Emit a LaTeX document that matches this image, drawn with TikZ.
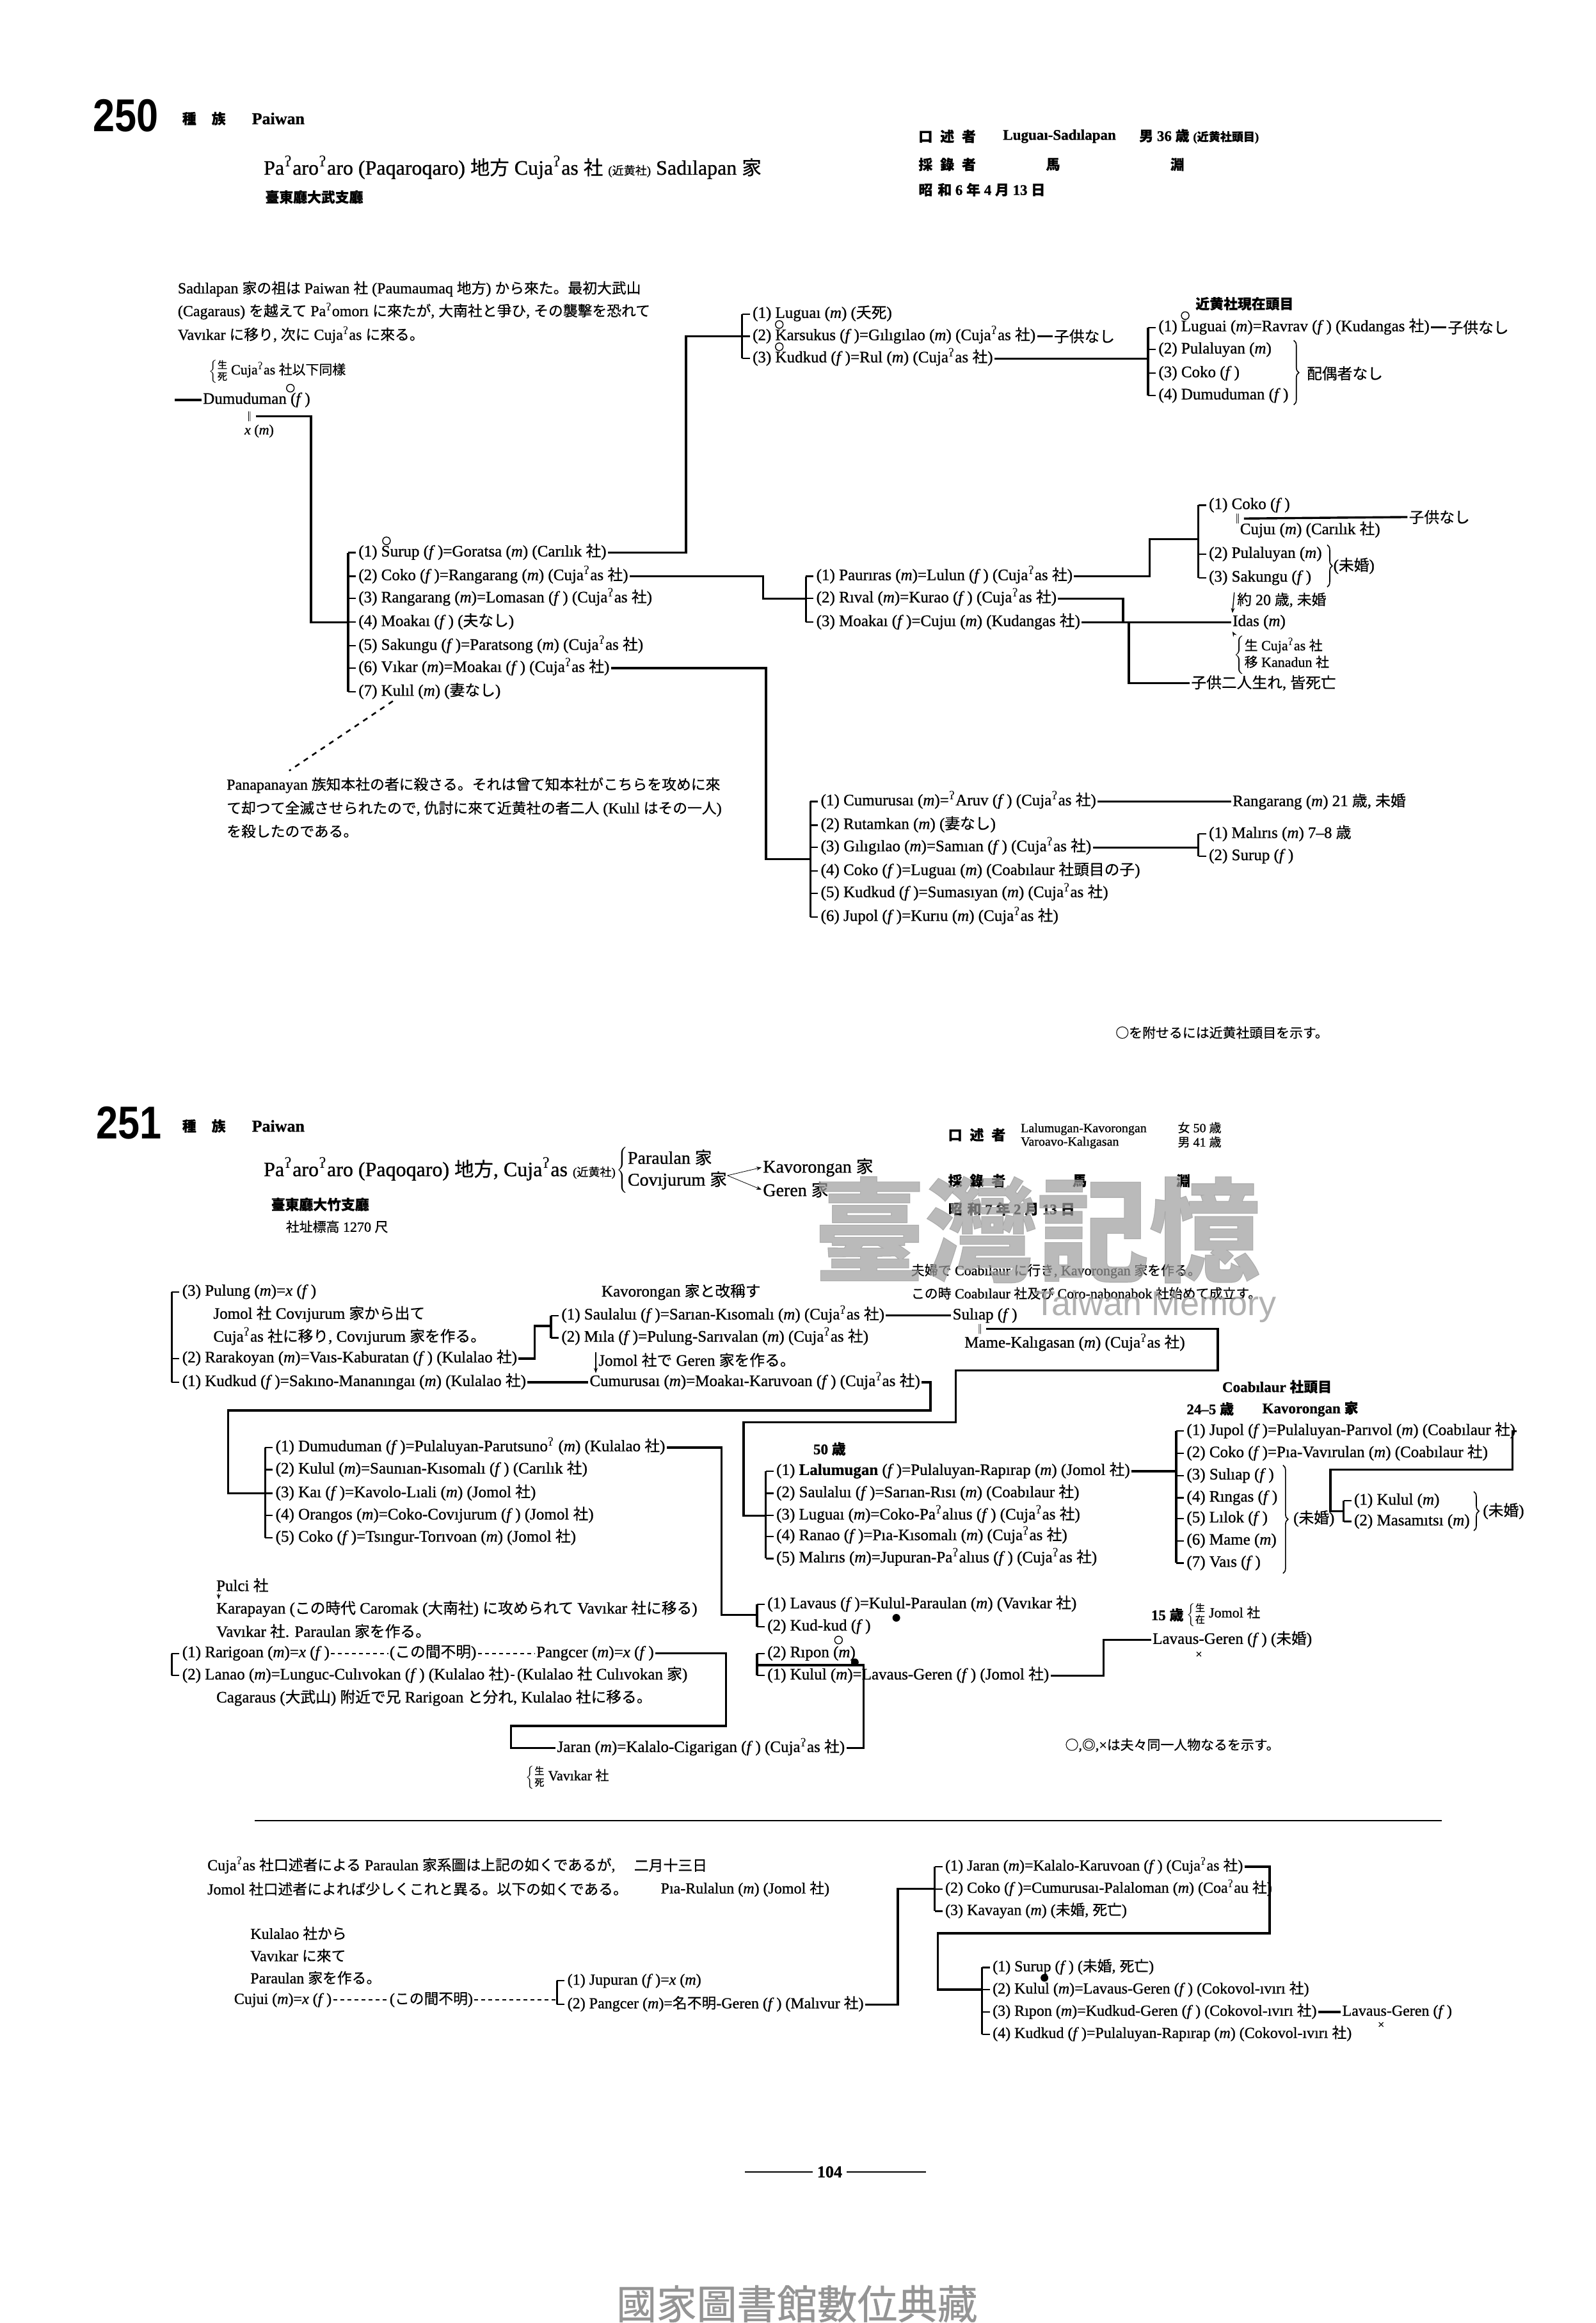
\documentclass[tikz,border=0pt]{standalone}
\usepackage{fontspec}
\setmainfont{Liberation Serif}[FakeBold=1]
\newfontfamily\cjkfont{Noto Sans CJK JP}[Scale=0.95, FakeBold=0.6]
\newfontfamily\ipafont{DejaVu Serif}
\newfontfamily\numfont{Liberation Sans}[FakeStretch=0.85]
\newfontfamily\twfont{Liberation Sans}
\usetikzlibrary{positioning,calc,arrows.meta,decorations.pathreplacing}

% runs of kanji / kana switch to the CJK font by themselves
\XeTeXinterchartokenstate=1
\chardef\cjkcls=10
\newcount\cjkcnt
\newcommand\setcls[2]{\cjkcnt=#1\relax
  \loop\XeTeXcharclass\cjkcnt=\cjkcls\relax
  \ifnum\cjkcnt<#2\relax\advance\cjkcnt by 1\relax\repeat}
\setcls{"2016}{"2016}
\setcls{"25A0}{"25FF}
\setcls{"3000}{"30FF}
\setcls{"3400}{"4DBF}
\setcls{"4E00}{"9FFF}
\setcls{"FF00}{"FFEF}
\makeatletter
\newcommand\tocjk{\edef\latfam{\f@family}\cjkfont}
\newcommand\fromcjk{\fontfamily{\latfam}\selectfont}
\makeatother
\def\latfam{\rmdefault}
\XeTeXinterchartoks 0 \cjkcls = {\tocjk}
\XeTeXinterchartoks 4095 \cjkcls = {\tocjk}
\XeTeXinterchartoks \cjkcls 0 = {\fromcjk}
\XeTeXinterchartoks \cjkcls 4095 = {\fromcjk}

\newcommand\gs{\textsuperscript{\ipafont ʔ}}
\newcommand\Cuja{Cuja\gs as}
\newcommand\Ma{(\textit{m})}
\newcommand\Fe{(\textit{f}\,)}
\newcommand\lbrc[1]{$\left\{\begin{tabular}{@{}l@{}}#1\end{tabular}\right.$}
% bracket of brothers and sisters
\newcommand\kin[3]{%
  \draw[tree] ([xshift=-7pt]#1.west) -- ([xshift=-7pt]#2.west);
  \foreach \nd in {#3}{\draw[twig] ([xshift=-7pt]\nd.west) -- ([xshift=-1pt]\nd.west);}}

\begin{document}
\begin{tikzpicture}[x=1.1574pt, y=-1.1574pt,
    every node/.style={font=\fontsize{12.5}{15}\selectfont},
    kid/.style={anchor=west, inner sep=1pt, text height=9pt, text depth=3pt},
    txt/.style={anchor=west, inner sep=1pt},
    small/.style={font=\fontsize{11}{13}\selectfont},
    para/.style={font=\fontsize{12}{14}\selectfont},
    head/.style={font=\bfseries\fontsize{11.5}{13}\selectfont},
    tree/.style={line width=1.7pt},
    twig/.style={line width=1.1pt},
    dsh/.style={line width=0.9pt, dash pattern=on 3pt off 2.5pt},
    mk/.style={circle, draw, line width=0.7pt, minimum size=6pt, inner sep=0pt},
    dot/.style={circle, fill, minimum size=6pt, inner sep=0pt},
    brace/.style={decorate, decoration={brace, amplitude=4pt}, line width=0.8pt},
    arr/.style={-{Stealth[length=4pt,width=3pt]}, line width=0.7pt}
  ]
  \fill[white] (0,0) rectangle (1077,1568);
  \useasboundingbox (0,0) rectangle (1077,1568);

  % ---------------- 250 ----------------
  \node[txt, font=\numfont\bfseries\fontsize{36}{36}\selectfont] (no250) at (62,78) {250};
  \node[txt, head] (zk250) at (122,80) {種\hspace{12pt}族};
  \node[txt, font=\bfseries\fontsize{13}{13}\selectfont] (pw250) at (169,80) {Paiwan};
  \node[txt, font=\fontsize{16}{16}\selectfont] (ttl250) at (177,113)
    {Pa\gs aro\gs aro (Paqaroqaro) 地方 \Cuja{} 社 {\fontsize{9.5}{9.5}\selectfont(近黄社)} Sadılapan 家};
  \node[txt, head] (of250) at (178,133) {臺東廳大武支廳};
  \node[txt, head] (kj250) at (619,92) {口\hspace{6pt}述\hspace{6pt}者};
  \node[txt, head] (in250) at (676,92) {Luguaı-Sadılapan};
  \node[txt, head] (ag250) at (768,92) {男 36 歳 {\fontsize{9.5}{9.5}\selectfont(近黄社頭目)}};
  \node[txt, head] (rc250) at (619,111) {採\hspace{6pt}錄\hspace{6pt}者};
  \node[txt, head] (ma250) at (705,111) {馬};
  \node[txt, head] (fu250) at (789,111) {淵};
  \node[txt, head] (dt250) at (619,128) {昭\hspace{4pt}和 6 年 4 月 13 日};

  \node[txt, para] (p1) at (119,195) {Sadılapan 家の祖は Paiwan 社 (Paumaumaq 地方) から來た。最初大武山};
  \node[txt, para] (p2) at (119,210) {(Cagaraus) を越えて Pa\gs omorı に來たが, 大南社と爭ひ, その襲擊を恐れて};
  \node[txt, para] (p3) at (119,226) {Vavıkar に移り, 次に \Cuja{} に來る。};
  \node[txt, small] (leg) at (140,251) {{\fontsize{8}{9}\selectfont\lbrc{生\\死}}\,\Cuja{} 社以下同樣};

  \coordinate (d0) at (118,270);
  \node[kid] (dumu) at (136,270) {Dumuduman \Fe};
  \node[mk] at (196,262) {};
  \node[txt, font=\fontsize{8}{8}\selectfont] (deq) at (164,281) {‖};
  \node[txt, small] (dx) at (164,291) {\textit{x} \Ma};
  \draw[tree] (d0) -- (dumu.west);

  \node[kid] (c1) at (241,373) {(1) Surup \Fe=Goratsa \Ma{} (Carılık 社)};
  \node[kid] (c2) at (241,389) {(2) Coko \Fe=Rangarang \Ma{} (\Cuja{} 社)};
  \node[kid] (c3) at (241,404) {(3) Rangarang \Ma=Lomasan \Fe{} (\Cuja{} 社)};
  \node[kid] (c4) at (241,420) {(4) Moakaı \Fe{} (夫なし)};
  \node[kid] (c5) at (241,436) {(5) Sakungu \Fe=Paratsong \Ma{} (\Cuja{} 社)};
  \node[kid] (c6) at (241,451) {(6) Vıkar \Ma=Moakaı \Fe{} (\Cuja{} 社)};
  \node[kid] (c7) at (241,467) {(7) Kulıl \Ma{} (妻なし)};
  \node[mk] at ([xshift=23pt,yshift=2pt]c1.north west) {};
  \kin{c1}{c7}{c1,c2,c3,c4,c5,c6,c7}
  \draw[tree] (deq.east) -| (210,420) -- ([xshift=-7pt]c4.west);

  \node[kid] (t1) at (507,212) {(1) Luguaı \Ma{} (夭死)};
  \node[kid] (t2) at (507,227) {(2) Karsukus \Fe=Gılıgılao \Ma{} (\Cuja{} 社)};
  \node[kid] (t3) at (507,242) {(3) Kudkud \Fe=Rul \Ma{} (\Cuja{} 社)};
  \node[mk] at ([xshift=22pt,yshift=2pt]t2.north west) {};
  \node[mk] at ([xshift=22pt,yshift=2pt]t3.north west) {};
  \kin{t1}{t3}{t1,t2,t3}
  \draw[tree] (c1.east) -| (463,227) -- ([xshift=-7pt]t2.west);
  \node[txt, right=12pt of t2] (tn) {子供なし};
  \draw[tree] (t2.east) -- (tn.west);

  \node[txt, head] (rh) at (806,205) {近黄社現在頭目};
  \node[kid] (r1) at (781,221) {(1) Luguai \Ma=Ravrav \Fe{} (Kudangas 社)};
  \node[kid] (r2) at (781,236) {(2) Pulaluyan \Ma};
  \node[kid] (r3) at (781,252) {(3) Coko \Fe};
  \node[kid] (r4) at (781,267) {(4) Dumuduman \Fe};
  \node[mk] at ([xshift=22pt,yshift=2pt]r1.north west) {};
  \kin{r1}{r4}{r1,r2,r3,r4}
  \draw[tree] (t3.east) -- ([xshift=-7pt]t3.east -| r1.west);
  \node[txt, right=12pt of r1] (rn) {子供なし};
  \draw[tree] (r1.east) -- (rn.west);
  \draw[brace] ([xshift=3pt]r4.east |- r2.north) -- ([xshift=3pt]r4.south east);
  \node[txt] (nsp) at ([xshift=12pt]r4.east |- r3) {配偶者なし};

  \node[kid] (m1) at (550,389) {(1) Paurıras \Ma=Lulun \Fe{} (\Cuja{} 社)};
  \node[kid] (m2) at (550,404) {(2) Rıval \Ma=Kurao \Fe{} (\Cuja{} 社)};
  \node[kid] (m3) at (550,420) {(3) Moakaı \Fe=Cujuı \Ma{} (Kudangas 社)};
  \kin{m1}{m3}{m1,m2,m3}
  \draw[tree] (c2.east) -| (515,404) -- ([xshift=-7pt]m2.west);

  \node[kid] (g1) at (815,341) {(1) Coko \Fe};
  \node[txt, font=\fontsize{8}{8}\selectfont] (geq) at (831,350) {‖};
  \node[kid] (gcu) at (836,358) {Cujuı \Ma{} (Carılık 社)};
  \node[kid] (g2) at (815,374) {(2) Pulaluyan \Ma};
  \node[kid] (g3) at (815,390) {(3) Sakungu \Fe};
  \kin{g1}{g3}{g1,g2,g3}
  \node[txt] (gn) at (950,349) {子供なし};
  \draw[tree] (geq.east) -- (gn.west);
  \draw[tree] (m1.east) -| (776,364) -- ([xshift=-7pt]g1.west |- 776,364);
  \draw[brace] ([xshift=3pt]g2.north east) -- ([xshift=3pt]g2.east |- g3.south);
  \node[txt] (unm1) at (899,382) {(未婚)};

  \node[kid] (idas) at (831,420) {Idas \Ma};
  \draw[tree] (m2.east) -| (758,420) -- (idas.west);
  \node[txt, para] (i20) at (834,405) {約 20 歳, 未婚};
  \draw[arr] ([xshift=-1pt,yshift=6pt]i20.west) -- ([xshift=1pt]idas.north west);
  \node[txt, small] (ib) at (832,442) {\lbrc{生 \Cuja{} 社\\移 Kanadun 社}};
  \draw[arr] ([xshift=1pt]ib.north west) -- ([xshift=1pt]idas.south west);
  \node[txt] (dead) at (803,461) {子供二人生れ, 皆死亡};
  \draw[tree] (m3.east) -| (762,461) -- (dead.west);

  \node[kid] (v1) at (553,541) {(1) Cumurusaı \Ma=\gs Aruv \Fe{} (\Cuja{} 社)};
  \node[kid] (v2) at (553,557) {(2) Rutamkan \Ma{} (妻なし)};
  \node[kid] (v3) at (553,572) {(3) Gılıgılao \Ma=Samıan \Fe{} (\Cuja{} 社)};
  \node[kid] (v4) at (553,588) {(4) Coko \Fe=Luguaı \Ma{} (Coabılaur 社頭目の子)};
  \node[kid] (v5) at (553,603) {(5) Kudkud \Fe=Sumasıyan \Ma{} (\Cuja{} 社)};
  \node[kid] (v6) at (553,619) {(6) Jupol \Fe=Kurıu \Ma{} (\Cuja{} 社)};
  \kin{v1}{v6}{v1,v2,v3,v4,v5,v6}
  \draw[tree] (c6.east) -| (517,580) -- ([xshift=-7pt]v1.west |- 517,580);
  \node[txt] (rang) at (831,541) {Rangarang \Ma{} 21 歳, 未婚};
  \draw[tree] (v1.east) -- (rang.west);
  \node[kid] (w1) at (815,563) {(1) Malırıs \Ma{} 7–8 歳};
  \node[kid] (w2) at (815,578) {(2) Surup \Fe};
  \kin{w1}{w2}{w1,w2}
  \draw[tree] (v3.east) -- ([xshift=-7pt]v3.east -| w1.west);

  \node[txt, para] (pa1) at (152,530) {Panapanayan 族知本社の者に殺さる。それは曾て知本社がこちらを攻めに來};
  \node[txt, para] (pa2) at (152,546) {て却つて全滅させられたので, 仇討に來て近黄社の者二人 (Kulıl はその一人)};
  \node[txt, para] (pa3) at (152,561) {を殺したのである。};
  \draw[line width=1.3pt, dash pattern=on 4pt off 4pt] ([xshift=28pt]c7.south west) -- ([xshift=50pt,yshift=4pt]pa1.north west);

  \node[txt, small] (nt250) at (752,697) {○を附せるには近黄社頭目を示す。};

  % ---------------- 251 ----------------
  \node[txt, font=\numfont\bfseries\fontsize{36}{36}\selectfont] (no251) at (64,758) {251};
  \node[txt, head] (zk251) at (122,760) {種\hspace{12pt}族};
  \node[txt, font=\bfseries\fontsize{13}{13}\selectfont] (pw251) at (169,760) {Paiwan};
  \node[txt, font=\fontsize{16}{16}\selectfont] (ttl251) at (177,789)
    {Pa\gs aro\gs aro (Paqoqaro) 地方, \Cuja{} {\fontsize{9.5}{9.5}\selectfont(近黄社)}};
  \node[txt, font=\fontsize{14}{17}\selectfont] (fam) at (415,790) {\lbrc{Paraulan 家\\Covıjurum 家}};
  \node[txt, font=\fontsize{14}{14}\selectfont] (kav) at (514,788) {Kavorongan 家};
  \node[txt, font=\fontsize{14}{14}\selectfont] (ger) at (514,803) {Geren 家};
  \draw[arr, line width=0.4pt] ([xshift=-2pt,yshift=-4pt]fam.east) -- (kav.west);
  \draw[arr, line width=0.4pt] ([xshift=-2pt,yshift=-4pt]fam.east) -- (ger.west);
  \node[txt, head] (of251) at (182,813) {臺東廳大竹支廳};
  \node[txt, small] (al251) at (192,828) {社址標高 1270 尺};
  \node[txt, head] (kj251) at (639,766) {口\hspace{6pt}述\hspace{6pt}者};
  \node[txt, font=\fontsize{10}{10.5}\selectfont] (in251) at (688,767)
    {\begin{tabular}{@{}l@{}}Lalumugan-Kavorongan\\Varoavo-Kalıgasan\end{tabular}};
  \node[txt, font=\fontsize{10}{10.5}\selectfont] (ag251) at (794,767)
    {\begin{tabular}{@{}l@{}}女 50 歳\\男 41 歳\end{tabular}};
  \node[txt, head] (rc251) at (639,797) {採\hspace{6pt}錄\hspace{6pt}者};
  \node[txt, head] (ma251) at (723,797) {馬};
  \node[txt, head] (fu251) at (793,797) {淵};
  \node[txt, head] (dt251) at (639,816) {昭\hspace{4pt}和 7 年 2 月 13 日};

  \node[kid] (L3) at (122,872) {(3) Pulung \Ma=\textit{x} \Fe};
  \node[txt] (ln1) at (143,887) {Jomol 社 Covıjurum 家から出て};
  \node[txt] (ln2) at (143,902) {\Cuja{} 社に移り, Covıjurum 家を作る。};
  \node[kid] (L2) at (122,917) {(2) Rarakoyan \Ma=Vaıs-Kaburatan \Fe{} (Kulalao 社)};
  \node[kid] (L1) at (122,933) {(1) Kudkud \Fe=Sakıno-Mananıngaı \Ma{} (Kulalao 社)};
  \kin{L3}{L1}{L3,L2,L1}
  \node[txt] (kh) at (405,872) {Kavorongan 家と改稱す};
  \node[kid] (K1) at (378,888) {(1) Saulaluı \Fe=Sarıan-Kısomalı \Ma{} (\Cuja{} 社)};
  \node[kid] (K2) at (378,903) {(2) Mıla \Fe=Pulung-Sarıvalan \Ma{} (\Cuja{} 社)};
  \kin{K1}{K2}{K1,K2}
  \draw[tree] (L2.east) -| (361,895) -- ([xshift=-7pt]K1.west |- 361,895);
  \node[txt] (kn) at (403,918) {Jomol 社で Geren 家を作る。};
  \node[kid] (cum) at (397,933) {Cumurusaı \Ma=Moakaı-Karuvoan \Fe{} (\Cuja{} 社)};
  \draw[arr] ([xshift=-1pt,yshift=6pt]kn.west) -- ([xshift=-1pt]kn.west |- cum.north);
  \draw[tree] (cum.west) -- (L1.east);
  \node[txt, small] (kv1) at (614,858) {夫婦で Coabılaur に行き, Kavorongan 家を作る。};
  \node[txt, small] (kv2) at (614,873) {この時 Coabılaur 社及び Coro-nabonabok 社始めて成立す。};
  \node[kid] (sul) at (642,888) {Sulıap \Fe};
  \draw[tree] (K1.east) -- (sul.west);
  \node[txt, font=\fontsize{8}{8}\selectfont] (seq) at (657,897) {‖};
  \node[kid] (mame) at (650,907) {Mame-Kalıgasan \Ma{} (\Cuja{} 社)};

  \node[kid] (A1) at (185,977) {(1) Dumuduman \Fe=Pulaluyan-Parutsuno\gs{} \Ma{} (Kulalao 社)};
  \node[kid] (A2) at (185,992) {(2) Kulul \Ma=Saunıan-Kısomalı \Fe{} (Carılık 社)};
  \node[kid] (A3) at (185,1008) {(3) Kaı \Fe=Kavolo-Lıali \Ma{} (Jomol 社)};
  \node[kid] (A4) at (185,1023) {(4) Orangos \Ma=Coko-Covıjurum \Fe{} (Jomol 社)};
  \node[kid] (A5) at (185,1038) {(5) Coko \Fe=Tsıngur-Torıvoan \Ma{} (Jomol 社)};
  \kin{A1}{A5}{A1,A2,A3,A4,A5}
  \draw[tree] (cum.east) -| (628,952) -| (154,1008) -- ([xshift=-7pt]A3.west);

  \node[txt, head] (bh) at (548,978) {50 歳};
  \node[kid] (B1) at (523,993) {(1) {\bfseries Lalumugan} \Fe=Pulaluyan-Rapırap \Ma{} (Jomol 社)};
  \node[kid] (B2) at (523,1008) {(2) Saulaluı \Fe=Sarıan-Rısı \Ma{} (Coabılaur 社)};
  \node[kid] (B3) at (523,1023) {(3) Luguaı \Ma=Coko-Pa\gs alıus \Fe{} (\Cuja{} 社)};
  \node[kid] (B4) at (523,1037) {(4) Ranao \Fe=Pıa-Kısomalı \Ma{} (\Cuja{} 社)};
  \node[kid] (B5) at (523,1052) {(5) Malırıs \Ma=Jupuran-Pa\gs alıus \Fe{} (\Cuja{} 社)};
  \kin{B1}{B5}{B1,B2,B3,B4,B5}
  \draw[tree] (seq.east) -| (822,925) -| (645,960) -| (502,1023) -- ([xshift=-7pt]B3.west);

  \node[txt, head] (ch1) at (824,936) {Coabılaur 社頭目};
  \node[txt, head] (ch2) at (800,951) {24–5 歳};
  \node[txt, head] (ch3) at (851,951) {Kavorongan 家};
  \node[kid] (C1) at (800,966) {(1) Jupol \Fe=Pulaluyan-Parıvol \Ma{} (Coabılaur 社)};
  \node[kid] (C2) at (800,981) {(2) Coko \Fe=Pıa-Vavırulan \Ma{} (Coabılaur 社)};
  \node[kid] (C3) at (800,996) {(3) Sulıap \Fe};
  \node[kid] (C4) at (800,1011) {(4) Rıngas \Fe};
  \node[kid] (C5) at (800,1025) {(5) Lılok \Fe};
  \node[kid] (C6) at (800,1040) {(6) Mame \Ma};
  \node[kid] (C7) at (800,1055) {(7) Vaıs \Fe};
  \kin{C1}{C7}{C1,C2,C3,C4,C5,C6,C7}
  \draw[tree] (B1.east) -- ([xshift=-7pt]B1.east -| C1.west);
  \draw[brace] (866,989) -- (866,1062);
  \node[txt] (unm2) at (872,1025) {(未婚)};
  \node[kid] (D1) at (913,1013) {(1) Kulul \Ma};
  \node[kid] (D2) at (913,1027) {(2) Masamıtsı \Ma};
  \kin{D1}{D2}{D1,D2}
  \draw[tree] (C1.east) -| (1021,992) -| (898,1020) -- ([xshift=-7pt]D1.west |- 898,1020);
  \draw[brace] ([xshift=2pt]D2.east |- D1.north) -- ([xshift=2pt]D2.south east);
  \node[txt] (unm3) at ([xshift=8pt]D2.east |- 0,1020) {(未婚)};

  \node[kid] (E1) at (517,1083) {(1) Lavaus \Fe=Kulul-Paraulan \Ma{} (Vavıkar 社)};
  \node[kid] (E2) at (517,1098) {(2) Kud-kud \Fe};
  \kin{E1}{E2}{E1,E2}
  \draw[tree] (A1.east) -| (487,1090) -- ([xshift=-7pt]E1.west |- 487,1090);
  \node[dot] at (605,1092) {};
  \node[kid] (F1) at (517,1116) {(2) Rıpon \Ma};
  \node[kid] (F2) at (517,1131) {(1) Kulul \Ma=Lavaus-Geren \Fe{} (Jomol 社)};
  \kin{F1}{F2}{F1,F2}
  \node[mk] at (566,1107) {};
  \node[dot] at (577,1122) {};
  \node[txt, head] (a15) at (776,1090) {15 歳};
  \node[txt, small] (b15) at (800,1090) {{\fontsize{8}{9}\selectfont\lbrc{生\\在}}\,Jomol 社};
  \node[kid] (lavg) at (777,1107) {Lavaus-Geren \Fe{} (未婚)};
  \node[txt, font=\fontsize{9}{9}\selectfont] (x1) at (806,1117) {×};
  \draw[tree] (F2.east) -| (745,1107) -- (lavg.west);

  \node[txt] (P0) at (145,1070) {Pulci 社};
  \node[txt] (P1) at (145,1086) {Karapayan (この時代 Caromak (大南社) に攻められて Vavıkar 社に移る)};
  \node[txt] (P2) at (145,1101) {Vavıkar 社. Paraulan 家を作る。};
  \draw[arr] ([xshift=3pt]P0.south west) -- ([xshift=3pt]P1.north west);
  \node[kid] (R1) at (122,1116) {(1) Rarigoan \Ma=\textit{x} \Fe};
  \node[kid] (unk1) at (262,1116) {(この間不明)};
  \node[kid] (pang) at (361,1116) {Pangcer \Ma=\textit{x} \Fe};
  \draw[dsh] (R1.east) -- (unk1.west);
  \draw[dsh] (unk1.east) -- (pang.west);
  \node[kid] (R2) at (122,1131) {(2) Lanao \Ma=Lunguc-Culıvokan \Fe{} (Kulalao 社)};
  \node[kid] (cul) at (348,1131) {(Kulalao 社 Culıvokan 家)};
  \draw[dsh] (R2.east) -- (cul.west);
  \kin{R1}{R2}{R1,R2}
  \node[txt] (R3) at (145,1146) {Cagaraus (大武山) 附近で兄 Rarigoan と分れ, Kulalao 社に移る。};
  \node[kid] (jar) at (375,1180) {Jaran \Ma=Kalalo-Cigarigan \Fe{} (\Cuja{} 社)};
  \node[txt, small] (jb) at (354,1200) {{\fontsize{8}{9}\selectfont\lbrc{生\\死}}\,Vavıkar 社};
  \draw[tree] (pang.east) -| (490,1165) -| (345,1180) -- (jar.west);
  \draw[tree] (jar.east) -| (583,1124) -- ([xshift=-7pt]F1.west |- 583,1124);
  \node[txt, small] (rem) at (718,1178) {○,◎,×は夫々同一人物なるを示す。};

  % ---------------- Jomol account ----------------
  \draw[line width=1pt] (172,1229) -- (973,1229);
  \node[txt, para] (q1) at (139,1259) {\Cuja{} 社口述者による Paraulan 家系圖は上記の如くであるが,};
  \node[txt, para] (q2) at (139,1275) {Jomol 社口述者によれば少しくこれと異る。以下の如くである。};
  \node[txt, para] (date) at (427,1259) {二月十三日};
  \node[txt, para] (pia) at (445,1275) {Pıa-Rulalun \Ma{} (Jomol 社)};
  \node[txt, para] (k1) at (168,1305) {Kulalao 社から};
  \node[txt, para] (k2) at (168,1320) {Vavıkar に來て};
  \node[txt, para] (k3) at (168,1335) {Paraulan 家を作る。};
  \node[kid, para] (cuj) at (157,1350) {Cujui \Ma=\textit{x} \Fe};
  \node[kid, para] (unk2) at (262,1350) {(この間不明)};
  \node[kid, para] (S1) at (382,1337) {(1) Jupuran \Fe=\textit{x} \Ma};
  \node[kid, para] (S2) at (382,1353) {(2) Pangcer \Ma=名不明-Geren \Fe{} (Malıvur 社)};
  \kin{S1}{S2}{S1,S2}
  \draw[dsh] (cuj.east) -- (unk2.west);
  \draw[dsh] (unk2.east) -- ([xshift=-7pt]unk2.east -| S1.west);
  \node[kid, para] (G1) at (637,1260) {(1) Jaran \Ma=Kalalo-Karuvoan \Fe{} (\Cuja{} 社)};
  \node[kid, para] (G2) at (637,1275) {(2) Coko \Fe=Cumurusaı-Palaloman \Ma{} (Coa\gs au 社)};
  \node[kid, para] (G3) at (637,1290) {(3) Kavayan \Ma{} (未婚, 死亡)};
  \kin{G1}{G3}{G1,G2,G3}
  \draw[tree] (S2.east) -| (606,1275) -- ([xshift=-7pt]G2.west);
  \node[kid, para] (H1) at (669,1328) {(1) Surup \Fe{} (未婚, 死亡)};
  \node[kid, para] (H2) at (669,1343) {(2) Kulul \Ma=Lavaus-Geren \Fe{} (Cokovol-ıvırı 社)};
  \node[kid, para] (H3) at (669,1358) {(3) Rıpon \Ma=Kudkud-Geren \Fe{} (Cokovol-ıvırı 社)};
  \node[kid, para] (H4) at (669,1373) {(4) Kudkud \Fe=Pulaluyan-Rapırap \Ma{} (Cokovol-ıvırı 社)};
  \kin{H1}{H4}{H1,H2,H3,H4}
  \node[dot] at (705,1335) {};
  \draw[tree] (G1.east) -| (857,1305) -| (633,1343) -- ([xshift=-7pt]H2.west);
  \node[kid, para] (lg) at (905,1358) {Lavaus-Geren \Fe};
  \draw[tree] (H3.east) -- (lg.west);
  \node[txt, font=\fontsize{9}{9}\selectfont] (x2) at (929,1367) {×};

  % ---------------- page foot ----------------
  \node[font=\bfseries\fontsize{13}{13}\selectfont] (p104) at (560,1466) {104};
  \coordinate (f0) at (503,1466);
  \coordinate (f1) at (625,1466);
  \draw[line width=1pt] (f0) -- (p104.west);
  \draw[line width=1pt] (p104.east) -- (f1);
  \node[font=\fontsize{33}{33}\selectfont, text=black!42] (lib) at (538,1555) {國家圖書館數位典藏};

  % watermark
  \node[font=\bfseries\fontsize{92}{92}\selectfont, text=black!38, opacity=0.7] (wm) at (700,830) {臺灣記憶};
  \node[font=\twfont\fontsize{27}{27}\selectfont, text=black!38, opacity=0.8] (wm2) at (780,882) {Taiwan Memory};
\end{tikzpicture}
\end{document}
